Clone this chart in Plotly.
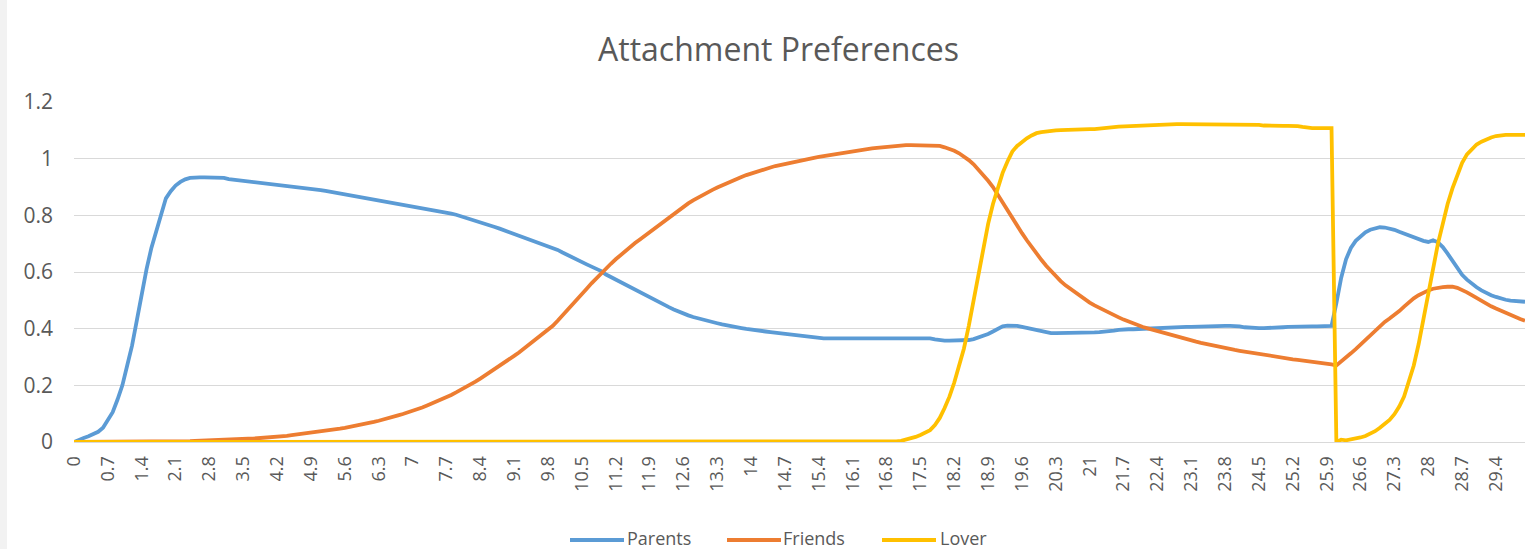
import plotly.graph_objects as go

# ---- data ----
time_steps = [f"{i/10:g}" for i in range(301)]  # category labels 0, 0.1, ... 30

parents = [
    0.00, 0.008, 0.014, 0.02, 0.027, 0.036, 0.05, 0.08, 0.105, 0.15,
    0.20, 0.27, 0.34, 0.43, 0.525, 0.61, 0.685, 0.745, 0.81, 0.86,
    0.885, 0.905, 0.918, 0.927, 0.932, 0.934, 0.934, 0.934, 0.934, 0.934,
    0.934, 0.932, 0.928, 0.926, 0.924, 0.922, 0.921, 0.92, 0.918, 0.916,
    0.913, 0.911, 0.91, 0.908, 0.906, 0.904, 0.901, 0.898, 0.896, 0.894,
    0.892, 0.889, 0.886, 0.883, 0.88, 0.877, 0.874, 0.872, 0.869, 0.866,
    0.863, 0.86, 0.857, 0.854, 0.851, 0.848, 0.845, 0.842, 0.838, 0.835,
    0.831, 0.828, 0.825, 0.822, 0.819, 0.816, 0.813, 0.81, 0.806, 0.802,
    0.797, 0.792, 0.787, 0.782, 0.776, 0.771, 0.765, 0.759, 0.753, 0.747,
    0.741, 0.735, 0.729, 0.723, 0.717, 0.711, 0.705, 0.699, 0.693, 0.686,
    0.678, 0.669, 0.66, 0.651, 0.643, 0.635, 0.627, 0.619, 0.611, 0.603,
    0.591, 0.582, 0.574, 0.565, 0.556, 0.547, 0.538, 0.529, 0.52, 0.51,
    0.50, 0.492, 0.484, 0.476, 0.468, 0.46, 0.453, 0.447, 0.441, 0.436,
    0.431, 0.427, 0.423, 0.419, 0.415, 0.411, 0.408, 0.405, 0.402, 0.399,
    0.396, 0.394, 0.392, 0.39, 0.388, 0.386, 0.384, 0.382, 0.38, 0.378,
    0.375, 0.372, 0.37, 0.368, 0.367, 0.366, 0.366, 0.366, 0.366, 0.366,
    0.366, 0.366, 0.366, 0.366, 0.366, 0.366, 0.366, 0.366, 0.366, 0.366,
    0.366, 0.366, 0.366, 0.366, 0.366, 0.366, 0.366, 0.366, 0.362, 0.359,
    0.358, 0.358, 0.358, 0.358, 0.359, 0.36, 0.363, 0.368, 0.374, 0.381,
    0.39, 0.40, 0.408, 0.411, 0.411, 0.41, 0.406, 0.402, 0.398, 0.395,
    0.39, 0.386, 0.384, 0.384, 0.384, 0.384, 0.384, 0.384, 0.384, 0.385,
    0.386, 0.387, 0.388, 0.389, 0.39, 0.393, 0.396, 0.398, 0.398, 0.398,
    0.399, 0.399, 0.40, 0.40, 0.40, 0.401, 0.402, 0.403, 0.404, 0.405,
    0.406, 0.406, 0.407, 0.408, 0.409, 0.41, 0.41, 0.41, 0.41, 0.41,
    0.41, 0.408, 0.405, 0.403, 0.402, 0.402, 0.402, 0.402, 0.403, 0.404,
    0.405, 0.406, 0.407, 0.408, 0.408, 0.408, 0.408, 0.408, 0.408, 0.408,
    0.41, 0.49, 0.58, 0.645, 0.685, 0.71, 0.727, 0.74, 0.749, 0.755,
    0.758, 0.757, 0.754, 0.749, 0.742, 0.735, 0.729, 0.722, 0.716, 0.71,
    0.706, 0.712, 0.705, 0.688, 0.665, 0.64, 0.612, 0.59, 0.573, 0.558,
    0.546, 0.535, 0.525, 0.518, 0.512, 0.506, 0.502, 0.499, 0.497, 0.496,
    0.495,
]

friends = [
    0, 0, 0, 0, 0, 0, 0, 0, 0, 0,
    0, 0, 0, 0, 0, 0, 0, 0, 0, 0,
    0, 0, 0.001, 0.002, 0.003, 0.004, 0.005, 0.006, 0.007, 0.008,
    0.008, 0.009, 0.009, 0.01, 0.01, 0.011, 0.012, 0.012, 0.013, 0.014,
    0.015, 0.017, 0.019, 0.02, 0.022, 0.024, 0.026, 0.028, 0.03, 0.032,
    0.034, 0.036, 0.038, 0.041, 0.044, 0.047, 0.05, 0.053, 0.056, 0.06,
    0.063, 0.067, 0.071, 0.075, 0.079, 0.084, 0.089, 0.094, 0.099, 0.104,
    0.11, 0.116, 0.122, 0.129, 0.136, 0.143, 0.15, 0.158, 0.166, 0.175,
    0.184, 0.193, 0.203, 0.213, 0.224, 0.235, 0.246, 0.257, 0.268, 0.28,
    0.292, 0.304, 0.316, 0.329, 0.342, 0.355, 0.368, 0.382, 0.396, 0.41,
    0.428, 0.446, 0.465, 0.484, 0.503, 0.522, 0.541, 0.56, 0.578, 0.595,
    0.612, 0.629, 0.645, 0.66, 0.675, 0.689, 0.702, 0.715, 0.728, 0.741,
    0.754, 0.767, 0.78, 0.793, 0.806, 0.818, 0.83, 0.842, 0.853, 0.863,
    0.872, 0.881, 0.89, 0.898, 0.906, 0.914, 0.921, 0.928, 0.935, 0.942,
    0.948, 0.954, 0.959, 0.964, 0.969, 0.974, 0.978, 0.982, 0.986, 0.99,
    0.994, 0.997, 1.0, 1.003, 1.006, 1.009, 1.012, 1.015, 1.018, 1.021,
    1.024, 1.027, 1.03, 1.032, 1.034, 1.036, 1.038, 1.04, 1.042, 1.044,
    1.046, 1.047, 1.048, 1.048, 1.048, 1.048, 1.048, 1.048, 1.047, 1.045,
    1.04, 1.035, 1.028, 1.019, 1.008, 0.995, 0.98, 0.962, 0.943, 0.922,
    0.90, 0.872, 0.844, 0.816, 0.79, 0.763, 0.737, 0.712, 0.688, 0.665,
    0.643, 0.622, 0.603, 0.585, 0.568, 0.553, 0.54, 0.527, 0.515, 0.503,
    0.492, 0.482, 0.473, 0.464, 0.456, 0.448, 0.44, 0.432, 0.425, 0.418,
    0.412, 0.406, 0.401, 0.396, 0.391, 0.386, 0.381, 0.376, 0.371, 0.366,
    0.362, 0.358, 0.354, 0.35, 0.346, 0.342, 0.338, 0.334, 0.331, 0.328,
    0.325, 0.322, 0.319, 0.316, 0.313, 0.31, 0.307, 0.304, 0.301, 0.298,
    0.296, 0.294, 0.292, 0.29, 0.288, 0.286, 0.284, 0.282, 0.28, 0.278,
    0.274, 0.27, 0.283, 0.298, 0.313, 0.328, 0.344, 0.36, 0.376, 0.393,
    0.41, 0.424, 0.436, 0.448, 0.462, 0.478, 0.494, 0.507, 0.518, 0.527,
    0.535, 0.541, 0.545, 0.547, 0.548, 0.548, 0.544, 0.537, 0.528, 0.518,
    0.508, 0.497, 0.487, 0.479, 0.471, 0.463, 0.455, 0.448, 0.441, 0.434,
    0.428,
]

lover = [
    0, 0, 0, 0, 0, 0, 0, 0, 0, 0,
    0, 0, 0, 0, 0, 0, 0, 0, 0, 0,
    0, 0, 0, 0, 0, 0, 0, 0, 0, 0,
    0, 0, 0, 0, 0, 0, 0, 0, 0, 0,
    0, 0, 0, 0, 0, 0, 0, 0, 0, 0,
    0, 0, 0, 0, 0, 0, 0, 0, 0, 0,
    0, 0, 0, 0, 0, 0, 0, 0, 0, 0,
    0, 0, 0, 0, 0, 0, 0, 0, 0, 0,
    0, 0, 0, 0, 0, 0, 0, 0, 0, 0,
    0, 0, 0, 0, 0, 0, 0, 0, 0, 0,
    0, 0, 0, 0, 0, 0, 0, 0, 0, 0,
    0, 0, 0, 0, 0, 0, 0, 0, 0, 0,
    0, 0, 0, 0, 0, 0, 0, 0, 0, 0,
    0, 0, 0, 0, 0, 0, 0, 0, 0, 0,
    0, 0, 0, 0, 0, 0, 0, 0, 0, 0,
    0, 0, 0, 0, 0, 0, 0, 0, 0, 0,
    0, 0, 0, 0, 0, 0, 0, 0, 0, 0,
    0.002, 0.004, 0.008, 0.013, 0.018, 0.025, 0.032, 0.042, 0.06, 0.085,
    0.12, 0.16, 0.21, 0.27, 0.33, 0.41, 0.50, 0.59, 0.68, 0.77,
    0.84, 0.90, 0.95, 0.99, 1.025, 1.045, 1.06, 1.072, 1.082, 1.09,
    1.094, 1.097, 1.099, 1.10, 1.101, 1.102, 1.103, 1.104, 1.104, 1.104,
    1.104, 1.104, 1.105, 1.107, 1.109, 1.111, 1.113, 1.114, 1.115, 1.115,
    1.116, 1.117, 1.118, 1.118, 1.119, 1.12, 1.121, 1.122, 1.122, 1.122,
    1.122, 1.122, 1.122, 1.122, 1.122, 1.122, 1.122, 1.122, 1.122, 1.122,
    1.122, 1.122, 1.122, 1.122, 1.121, 1.119, 1.117, 1.116, 1.116, 1.116,
    1.116, 1.116, 1.116, 1.115, 1.112, 1.109, 1.108, 1.108, 1.108, 1.108,
    1.108, 0.0, 0.008, 0.006, 0.009, 0.011, 0.016, 0.021, 0.028, 0.038,
    0.05, 0.063, 0.078, 0.098, 0.125, 0.16, 0.21, 0.27, 0.345, 0.435,
    0.53, 0.62, 0.70, 0.77, 0.84, 0.895, 0.945, 0.985, 1.015, 1.035,
    1.05, 1.06, 1.068, 1.075, 1.08, 1.083, 1.084, 1.084, 1.084, 1.084,
    1.084,
]

series_names = ["Parents", "Friends", "Lover"]
series_values = [parents, friends, lover]
series_colors = ["#5B9BD5", "#ED7D31", "#FFC000"]

tick_labels = time_steps[::7]
y_ticks = [0, 0.2, 0.4, 0.6, 0.8, 1.0, 1.2]
y_tick_text = ["0", "0.2", "0.4", "0.6", "0.8", "1", "1.2"]

# ---- figure ----
W, H = 1534, 549
ML, MR, MT, MB = 74, 9, 102, 107
PW = W - ML - MR
PH = H - MT - MB
FONT = "Open Sans"
GREY = "#595959"

fig = go.Figure()
for name, vals, col in zip(series_names, series_values, series_colors):
    fig.add_trace(go.Scatter(
        x=time_steps, y=vals, name=name, mode="lines",
        line=dict(color=col, width=3.8, shape="linear"),
        showlegend=False, hoverinfo="x+y+name",
    ))


def px_x(p):
    return (p - ML) / PW


def px_y(p):
    return (H - MB - p) / PH


# custom legend (Excel-style long line symbols)
LEG_Y = 538
legend_items = [(570, 624, 626), (727, 781, 782), (882, 936, 939)]
shapes = [
    # light grey strip at the left edge of the picture
    dict(type="rect", xref="paper", yref="paper", x0=px_x(0), x1=px_x(7),
         y0=px_y(H), y1=px_y(0), fillcolor="#f2f2f2", line=dict(width=0), layer="below"),
]
annotations = []
for (x0, x1, xt), name, col in zip(legend_items, series_names, series_colors):
    shapes.append(dict(type="line", xref="paper", yref="paper",
                       x0=px_x(x0), x1=px_x(x1), y0=px_y(LEG_Y + 2), y1=px_y(LEG_Y + 2),
                       line=dict(color=col, width=3.8)))
    annotations.append(dict(xref="paper", yref="paper", x=px_x(xt), y=px_y(LEG_Y),
                            text=name, showarrow=False, xanchor="left", yanchor="middle",
                            borderpad=0,
                            font=dict(family=FONT, size=18, color=GREY)))

fig.update_layout(
    width=W, height=H,
    margin=dict(l=ML, r=MR, t=MT, b=MB),
    paper_bgcolor="white", plot_bgcolor="white",
    font=dict(family=FONT, color=GREY),
    title=dict(text="Attachment Preferences", x=px_x(778.5), xref="paper",
               xanchor="center", y=1 - 50 / H, yanchor="middle",
               font=dict(family=FONT, size=32, color=GREY)),
    xaxis=dict(type="category", categoryorder="array", categoryarray=time_steps,
               range=[0, 300], tickmode="array", tickvals=tick_labels, ticktext=tick_labels,
               tickangle=-90, tickfont=dict(family=FONT, size=18, color=GREY),
               showgrid=False, showline=True, linecolor="#d9d9d9", linewidth=1,
               ticks="", ticklabelstandoff=6, zeroline=False, automargin=False),
    yaxis=dict(range=[0, 1.2], tickmode="array", tickvals=y_ticks, ticktext=y_tick_text,
               tickfont=dict(family=FONT, size=21, color=GREY),
               showgrid=True, gridcolor="#d9d9d9", gridwidth=1,
               zeroline=False, showline=False, ticks="", ticklabelstandoff=20,
               automargin=False),
    shapes=shapes,
    annotations=annotations,
    hovermode="closest",
)

fig.write_html("out.html", config={"displayModeBar": False},
               post_script="document.body.style.margin='0';document.body.style.overflow='hidden';")
